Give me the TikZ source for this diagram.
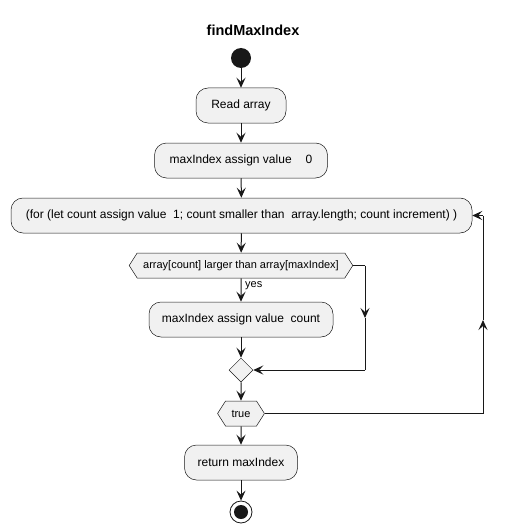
\documentclass[tikz,border=0pt]{standalone}
\usepackage{fontspec}
\setmainfont{Liberation Sans}
\usetikzlibrary{arrows.meta, shapes.geometric, shapes.symbols}
\definecolor{actfill}{HTML}{F1F1F1}
\definecolor{actline}{HTML}{181818}

\begin{document}
\begin{tikzpicture}[x = 1pt, y = -1pt,
    every node/.style = {font = \fontsize{12}{14}\selectfont},
    act/.style = {shape = rectangle, rounded corners = 12pt, draw = actline,
                  fill = actfill, line width = 0.5pt, minimum height = 35,
                  inner xsep = 0pt},
    cond/.style = {shape = signal, signal to = west and east,
                   signal pointer angle = 115, draw = actline, fill = actfill,
                   line width = 0.5pt, minimum height = 25, inner xsep = 6pt,
                   inner ysep = 0pt, font = \fontsize{11}{13}\selectfont},
    mergebox/.style = {shape = diamond, draw = actline, fill = actfill,
                       line width = 0.5pt, minimum size = 24, inner sep = 0pt},
    startdot/.style = {shape = circle, fill = actline, minimum size = 20,
                       inner sep = 0pt},
    stopdot/.style = {shape = circle, draw = actline, fill = white,
                      line width = 0.8pt, minimum size = 22, inner sep = 0pt,
                      path picture = {\fill[actline]
                        (path picture bounding box.center) circle (7pt);}},
    flow/.style = {draw = actline, line width = 1pt},
    arrow/.style = {flow, -{Stealth[length = 10pt, width = 9pt, inset = 4pt]}}]
  \useasboundingbox (0, 0) rectangle (508, 532);

  \node (title) at (253, 30) {\fontsize{14.5}{16}\selectfont\bfseries findMaxIndex};

  \node (start) at (241, 58) [startdot] {};
  \node (read) at (241, 105.5) [act, minimum width = 90] {Read array};
  \node (init) at (241, 160.5) [act, minimum width = 173]
        {maxIndex assign value\hspace{14pt}0};
  \node (loop) at (241.5, 215.5) [act, minimum width = 461]
        {(for (let count assign value\ \ 1; count smaller than\ \ array.length; count increment) )};
  \node (test) at (241, 265.5) [cond] {array[count] larger than array[maxIndex]};
  \node (yes) at (245, 286) [anchor = west, inner sep = 0pt,
        font = \fontsize{11}{13}\selectfont] {yes};
  \node (upd) at (241, 319.5) [act, minimum width = 184]
        {maxIndex assign value\ \ count};
  \node (merge) at (241, 370) [mergebox] {};
  \node (again) at (241, 413.5) [cond] {true};
  \node (ret) at (241, 462.5) [act, minimum width = 113] {return maxIndex};
  \node (stop) at (241, 512) [stopdot] {};

  % branch that skips the update
  \coordinate (b1) at (365, 265.5);
  \coordinate (b2) at (365, 318);
  \coordinate (b3) at (365, 370);
  % back edge of the loop
  \coordinate (r1) at (483, 413.5);
  \coordinate (r2) at (483, 320);
  \coordinate (r3) at (483, 215.5);

  \draw [arrow] (start) -- (read);
  \draw [arrow] (read) -- (init);
  \draw [arrow] (init) -- (loop);
  \draw [arrow] (loop) -- (test);
  \draw [arrow] (test) -- (upd);
  \draw [arrow] (upd) -- (merge);
  \draw [arrow] (merge) -- (again);
  \draw [arrow] (again) -- (ret);
  \draw [arrow] (ret) -- (stop);

  \draw [flow] (test.east) -- (b1);
  \draw [arrow] (b1) -- (b2);
  \draw [flow] (b2) -- (b3);
  \draw [arrow] (b3) -- (merge.east);

  \draw [flow] (again.east) -- (r1);
  \draw [arrow] (r1) -- (r2);
  \draw [flow] (r2) -- (r3);
  \draw [arrow] (r3) -- (loop.east);
\end{tikzpicture}
\end{document}
